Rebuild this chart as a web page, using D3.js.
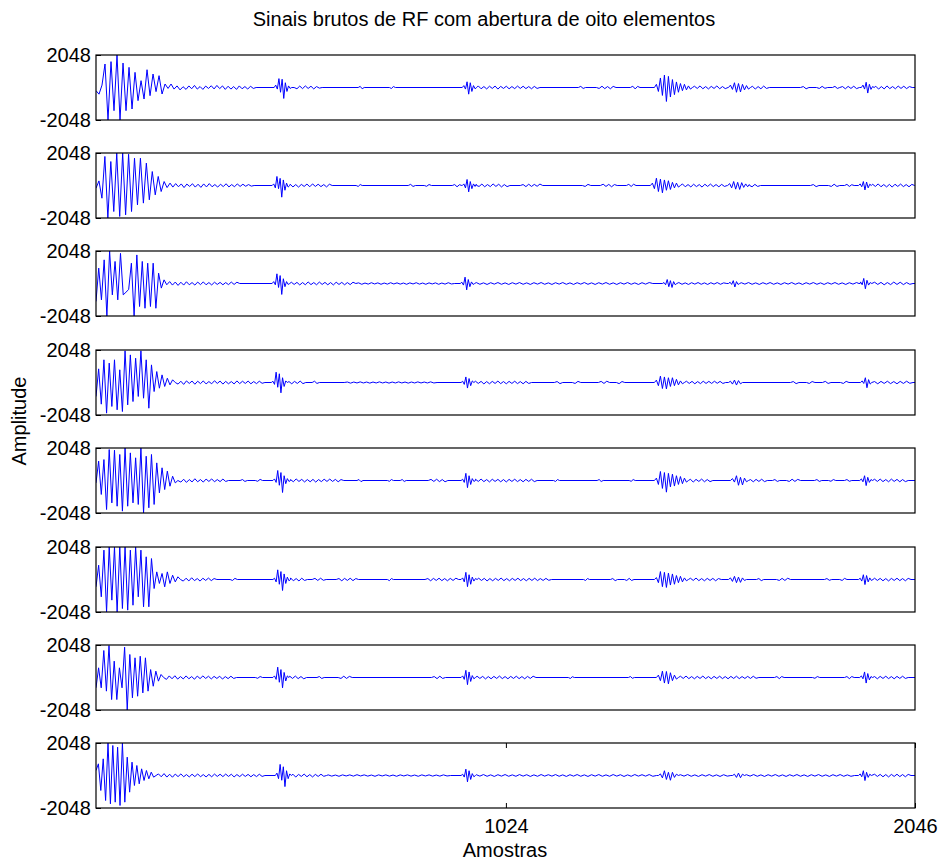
<!DOCTYPE html>
<html>
<head>
<meta charset="utf-8">
<script src="https://cdn.jsdelivr.net/npm/d3@7"></script>
<style>
  body { margin: 0; background: #ffffff; }
  text { font-family: "Liberation Sans", Arial, sans-serif; fill: #000; }
</style>
</head>
<body>
<svg id="chart"></svg>
<script>
////////////////////////////////////////////////////////////////////////
// RF raw signals, eight element aperture
//   each channel is a list of segments: [firstSample, sampleStep, values]
//   values (peaks / troughs)
////////////////////////////////////////////////////////////////////////

var sampleTicks = [1024, 2046];
var ampTicks = [-2048, 2048];
var titleText = "Sinais brutos de RF com abertura de oito elementos";
var xLabel = "Amostras";
var yLabel = "Amplitude";

var ch1 = [
  [0, 7.5, [-200,-420,150,1480,-2048,1630,-1460,2048,-2048,1540,-1460,1270,-1355,955,-830,430,-725,1120,-515,850,-260,745,-410,220,-60,220,-100,100,-150,50]],
  [225, 7, [-120,100,-80,130,-100,60,-120,90,-60,110,-90,130,-70,100,-120,80,-100,60,-120,100,-80,60,-100,80,-60,0]],
  [445, 4, [0,150,-100,560,-300,520,-690,300,-250,100,-60,0]],
  [495, 7, [0,-80,90,-70,100,-60,80,-90,60,-40,0]],
  [655, 5, [0,70,-80,0]],
  [733, 5, [0,-60,60,0]],
  [915, 4, [0,120,-100,360,-420,300,-250,120,-80,0]],
  [955, 7, [100,-80,60,-90,80,-60,90,-100,70,-60,80,-80,60,-70,90,-60,80,-70,60,-80,70,-60,0]],
  [1205, 6, [0,70,-60,0]],
  [1250, 7, [0,-60,80,-70,60,-80,70,0]],
  [1335, 6, [0,80,-90,70,0]],
  [1395, 5, [0,200,-250,600,-500,780,-880,700,-600,500,-450,350,-300,250,-200,200,-150,100,-100,0]],
  [1495, 7, [80,-60,100,-80,60,-90,70,-60,100,-80,60,-70,0]],
  [1580, 5, [0,150,-120,300,-300,250,-280,200,-150,120,-100,0]],
  [1640, 7, [80,-100,60,-80,90,-60,0]],
  [1760, 7, [0,60,-80,0]],
  [1800, 7, [0,-60,70,-50,0]],
  [1840, 6, [0,70,-60,0]],
  [1865, 7, [60,-80,70,-60,80,-70,0]],
  [1912, 4, [0,150,-100,330,-350,200,-120,60,0]],
  [1948, 7, [80,-100,60,-90,100,-70,60,-80,90,-60,80,-70,60,0]]
];

var ch2 = [
  [0, 7.4, [-170,290,-800,1830,-2048,1510,-1640,2048,-1950,2048,-1850,1970,-1640,1720,-1220,1720,-1110,1410,-900,880,-590,570,-380,250,-130,150]],
  [192, 7, [-100,120,-80,100,-130,90,-60,110,-100,80,-120,100,-90,120,-80,60,-100,80,-70,110,-90,60,-80,100,-60,80,-50,60,-40,0]],
  [440, 4, [0,100,-150,570,-200,450,-735,350,-300,150,-100,0]],
  [485, 7, [80,-90,60,-100,70,-60,90,-80,100,-60,80,-70,60,-90,80,0]],
  [650, 5, [0,-60,60,0]],
  [780, 6, [0,70,-60,0]],
  [820, 6, [0,-50,60,0]],
  [890, 6, [0,60,-80,50,0]],
  [915, 4, [0,100,-150,380,-400,250,-200,100,-60,0]],
  [950, 7, [80,-60,90,-80,60,-70,100,-60,80,-90,60,-70,0]],
  [1060, 7, [0,60,-70,80,-60,70,-50,90,0]],
  [1215, 7, [0,-60,70,0]],
  [1260, 7, [0,80,-60,70,-80,60,0]],
  [1325, 6, [0,70,-60,80,0]],
  [1385, 5, [0,150,-200,460,-380,400,-460,350,-300,300,-250,200,-150,150,-100,0]],
  [1465, 7, [100,-80,60,-90,80,-70,60,-100,80,-60,90,-70,60,-80,70,-60,0]],
  [1578, 5, [0,120,-150,250,-230,200,-250,180,-120,100,-80,0]],
  [1632, 7, [60,-80,70,-60,0]],
  [1785, 7, [0,60,-70,0]],
  [1830, 7, [0,-60,80,-60,0]],
  [1870, 6, [0,70,-60,50,0]],
  [1905, 4, [0,100,-80,250,-280,220,-150,80,0]],
  [1940, 7, [80,-60,100,-80,60,-90,70,-100,80,-60,90,-70,60,-80,70,0]]
];

var ch3 = [
  [0, 6.8, [-1130,970,-1030,1490,-2048,2048,-715,1390,-1030,1900,-715,-550,-380,1280,-2048,1800,-1450,1390,-1560,1280,-1450,1280,-1560,650,-290,230,-80]],
  [184, 7, [120,-100,90,-120,80,-100,110,-80,60,-100,90,-70,100,-80,60,-90,80,-60,70,-80,60,-70,90,-60,80,0]],
  [440, 4, [0,120,-80,610,-250,500,-690,300,-200,120,-60,0]],
  [488, 7, [80,-60,70,-90,60,-80,100,-70,60,-80,90,-60,70,-80,60,-90,80,-60,70,-80,60,-70,80,0]],
  [656, 8, [40,-50,30,-40,50,-30,40,-50,30,-40,50,-30,40,-40,30,-50,40,-30,50,-40,30,-50,40,-30,40,-50,30,-40,50,-30,0]],
  [910, 4, [0,80,-100,400,-400,250,-200,100,-60,0]],
  [950, 9, [60,-50,40,-60,50,-40,60,-50,40,-60,50,-40,60,-50,40,-60,50,-40,60,-50,40,-60,50,-40,60,-50,40,-60,50,-40,60,-50,40,-60,50,-40,60,-50,40,-60,50,-40,60,-50,40,-60,50,-40,60,0]],
  [1415, 4, [0,60,-80,250,-200,180,-250,120,-80,0]],
  [1456, 8, [60,-50,40,-60,50,-40,60,-50,40,-60,50,-40,60,-50,40,0]],
  [1580, 4, [0,80,-60,180,-220,120,-60,0]],
  [1612, 9, [50,-40,60,-50,40,-60,50,-40,60,-50,40,-60,50,-40,60,-50,40,-60,50,-40,60,-50,40,-60,50,-40,60,-50,40,-60,50,-40,60,0]],
  [1906, 4, [0,100,-80,320,-330,200,-100,60,0]],
  [1945, 8, [80,-60,70,-80,60,-70,90,-60,80,-70,60,-50,0]]
];

var ch4 = [
  [0, 6.6, [-880,860,-1365,1430,-1930,1220,-1510,1430,-1720,800,-1830,1995,-1410,1740,-1200,1530,-880,1995,-990,1430,-1620,1110,-570,690,-360,480,-250,270,-150,170,0]],
  [205, 7, [-100,80,-120,100,-60,90,-110,80,-70,100,-90,60,-80,110,-60,90,-100,70,-80,60,-90,100,-70,80,-60,90,-80,60,-70,80,-50,0]],
  [438, 4, [0,80,-120,650,-300,550,-650,300,-250,100,0]],
  [482, 7, [60,-80,70,-60,90,-70,0]],
  [540, 6, [0,80,-60,0]],
  [620, 8, [0,30,-40,30,-30,40,-30,30,-40,30,-30,40,-30,30,-40,30,-30,40,-30,30,-40,30,-30,40,-30,30,-30,40,-30,0]],
  [912, 4, [0,80,-120,350,-350,250,-200,100,0]],
  [948, 7, [80,-60,70,-90,60,-80,70,-60,90,-70,60,-80,70,-60,80,-70,60,-80,70,-60,0]],
  [1145, 7, [0,60,-70,0]],
  [1190, 7, [0,-60,70,0]],
  [1255, 7, [0,70,-60,80,0]],
  [1300, 7, [0,-70,60,0]],
  [1395, 5, [0,150,-200,400,-380,350,-400,300,-250,300,-200,200,-150,100,-80,0]],
  [1475, 7, [80,-60,70,-80,60,-70,80,-60,70,-60,80,-50,70,-60,0]],
  [1580, 5, [0,80,-100,150,-160,120,-80,0]],
  [1735, 7, [0,60,-70,0]],
  [1775, 7, [0,-60,60,0]],
  [1815, 7, [0,70,-60,0]],
  [1860, 7, [0,-60,70,0]],
  [1910, 4, [0,100,-60,300,-330,180,-100,0]],
  [1945, 8, [60,-80,70,-60,80,-70,60,-80,70,-60,80,-50,0]]
];

var ch5 = [
  [0, 6.6, [-150,1220,-880,1320,-1830,1950,-1410,1910,-1620,1640,-1930,2048,-1620,1740,-1410,1430,-1510,2048,-2048,1530,-1720,1640,-1510,1110,-780,800,-570,590,-360,270,-150,0]],
  [212, 7, [-100,80,-120,60,-90,110,-80,60,-100,90,-60,100,-80,60,-70,90,-60,0]],
  [360, 6, [0,60,-60,0]],
  [398, 6, [0,-50,70,0]],
  [442, 4, [0,100,-120,630,-300,500,-756,300,-200,120,-60,0]],
  [486, 7, [60,-80,100,-60,70,-90,60,-80,70,-100,60,-70,80,-60,90,-60,70,-80,60,0]],
  [652, 5, [0,60,-70,0]],
  [728, 5, [0,-50,60,0]],
  [760, 5, [0,60,-60,0]],
  [830, 7, [0,70,-60,80,-70,60,-80,0]],
  [912, 4, [0,80,-120,450,-450,300,-250,120,-60,0]],
  [948, 7, [80,-60,90,-70,60,-90,80,-60,70,-80,60,-90,70,-60,80,-70,60,-80,70,-60,80,-70,0]],
  [1143, 5, [0,-60,60,0]],
  [1252, 5, [0,60,-60,0]],
  [1332, 5, [0,-50,60,0]],
  [1395, 5, [0,150,-250,567,-500,500,-735,450,-400,400,-350,300,-250,250,-200,150,-100,0]],
  [1485, 7, [80,-100,70,-60,90,-80,60,-70,0]],
  [1585, 5, [0,120,-100,300,-300,200,-280,150,-80,0]],
  [1635, 7, [60,-80,70,-60,80,-70,0]],
  [1690, 6, [0,60,-60,0]],
  [1725, 7, [0,-60,80,-60,70,0]],
  [1795, 6, [0,60,-60,0]],
  [1830, 6, [0,-50,60,0]],
  [1870, 6, [0,60,-50,0]],
  [1908, 4, [0,100,-80,300,-320,200,-120,60,0]],
  [1945, 7, [80,-60,90,-70,60,-80,90,-60,70,-80,60,-70,0]]
];

var ch6 = [
  [0, 6.6, [-460,900,-1090,1850,-2048,2048,-1300,2048,-2048,2048,-1830,2048,-1930,1850,-1620,2048,-1090,1850,-1720,1430,-1720,1320,-570,480,-250,380,-460,480,-250,270,-150,170,0]],
  [218, 7, [-100,80,-90,110,-70,60,-100,80,-60,90,-70,60,0]],
  [335, 6, [0,-60,70,0]],
  [442, 4, [0,80,-150,609,-300,500,-693,350,-250,150,-80,0]],
  [486, 7, [100,-80,60,-90,80,-60,0]],
  [540, 7, [0,70,-60,80,-50,0]],
  [600, 7, [0,60,-80,70,-60,80,-70,60,0]],
  [728, 5, [0,-70,60,0]],
  [822, 7, [0,60,-80,70,-60,80,-70,60,-80,70,-60,80,0]],
  [912, 4, [0,100,-150,450,-450,300,-300,150,-100,60,0]],
  [956, 7, [80,-60,70,-90,60,-80,70,-60,90,-70,60,-80,70,-60,80,-70,60,-80,70,-60,80,-70,60,-60,70,-50,0]],
  [1218, 5, [0,-60,60,0]],
  [1285, 6, [0,60,-70,0]],
  [1320, 6, [0,-60,70,-60,0]],
  [1395, 5, [0,120,-200,500,-450,450,-500,400,-350,350,-300,250,-200,200,-150,100,-80,0]],
  [1485, 7, [80,-60,90,-70,60,-80,70,-60,70,-80,60,0]],
  [1580, 5, [0,100,-120,200,-200,150,-180,100,-60,0]],
  [1650, 6, [0,60,-70,0]],
  [1700, 7, [0,-60,70,-60,80,0]],
  [1820, 6, [0,60,-50,0]],
  [1858, 6, [0,-60,70,0]],
  [1905, 4, [0,80,-100,300,-320,250,-150,100,-60,0]],
  [1945, 7, [80,-60,70,-80,60,-90,70,-60,80,-70,60,-80,70,0]]
];

var ch7 = [
  [0, 6.5, [-650,610,-650,1700,-860,2016,-1390,1030,-1390,610,-650,1910,-2048,1450,-1280,1240,-1180,1340,-970,1240,-860,500,-550,400,-230,190,0]],
  [176, 7, [-120,100,-80,110,-100,60,-90,100,-80,60,-110,90,-70,100,-60,80,-90,70,-60,80,-100,60,-70,80,-60,0]],
  [398, 6, [0,-50,60,0]],
  [442, 4, [0,100,-120,650,-300,500,-650,320,-220,100,0]],
  [484, 7, [80,-60,90,-70,60,-80,0]],
  [552, 6, [0,60,-60,0]],
  [605, 7, [0,-60,80,-60,70,0]],
  [838, 7, [0,60,-70,80,-60,0]],
  [912, 4, [0,100,-120,450,-450,350,-250,120,-80,0]],
  [952, 7, [80,-60,70,-90,60,-80,70,-60,90,-70,60,-80,70,-60,80,-70,60,-80,70,-60,80,0]],
  [1180, 5, [0,-60,50,0]],
  [1330, 5, [0,60,-50,0]],
  [1400, 5, [0,150,-200,400,-350,380,-400,300,-200,150,-100,0]],
  [1460, 7, [80,-60,90,-70,60,-80,70,-60,90,-70,60,-80,70,-60,80,-70,60,-80,70,-60,80,-70,60,-60,70,-60,80,-50,0]],
  [1695, 6, [0,60,-70,60,0]],
  [1790, 6, [0,-50,60,0]],
  [1870, 6, [0,60,-70,60,0]],
  [1908, 4, [0,100,-80,350,-350,250,-150,60,0]],
  [1945, 7, [60,-80,70,-60,80,-70,60,-80,70,-60,80,-60,0]]
];

var ch8 = [
  [0, 6, [315,735,-945,1050,-1575,2048,-1785,1890,-1680,1785,-1890,2048,-1680,1155,-1050,840,-630,630,-525,420,-315,315,-210,210,-105,0]],
  [156, 7, [100,-80,120,-100,80,-110,90,-70,100,-80,60,-90,80,-70,100,-80,60,-90,70,-80,90,-60,80,-70,90,-60,80,-90,60,-70,80,-60,70,-80,60,-70,80,-60,0]],
  [448, 4, [0,150,-200,700,-300,550,-700,300,-200,100,0]],
  [492, 7, [80,-100,70,-60,90,-80,60,-90,70,-60,80,-50,0]],
  [580, 9, [40,-40,30,-50,40,-30,40,-40,50,-30,40,-40,30,-50,40,-30,40,-40,30,-50,40,-30,40,-40,30,-50,40,-30,40,-40,30,-40,40,-30,0]],
  [912, 4, [0,80,-100,400,-400,300,-250,120,-80,0]],
  [950, 9, [50,-40,60,-50,40,-60,50,-40,60,-50,40,-50,60,-40,50,-60,40,-50,60,-40,50,-40,60,-50,40,-60,50,-40,60,-50,40,-60,50,-40,60,-50,40,-50,60,-40,50,-60,40,-50,60,-40,50,-40,60,-50,0]],
  [1405, 5, [0,100,-150,300,-250,200,-300,200,-120,80,0]],
  [1460, 9, [50,-40,60,-50,40,-60,50,-40,60,-50,40,-60,50,-40,0]],
  [1590, 5, [0,80,-120,150,-140,80,0]],
  [1625, 9, [50,-40,60,-50,40,-60,50,-40,60,-50,40,-60,50,-40,60,-50,40,-60,50,-40,60,-50,40,-60,50,-40,60,-50,40,-50,0]],
  [1905, 4, [0,100,-80,300,-320,200,-120,80,0]],
  [1945, 7, [80,-60,70,-80,60,-90,70,-60,80,-70,60,-80,70,0]]
];

var channels = [ch1, ch2, ch3, ch4, ch5, ch6, ch7, ch8];


////////////////////////////////////////////////////////////////////////
//
// turn the segment list of one channel into [sample, value] points
//
////////////////////////////////////////////////////////////////////////
function toPoints(segs)
    {
    var pts = [];
    segs.forEach(function(seg)
        {
        seg[2].forEach(function(v, i)
            {
            pts.push([seg[0] + i * seg[1], v]);
            });
        });
    pts.push([2046, 0]);
    pts.sort(function(a, b) { return a[0] - b[0]; });
    return pts;
    }


////////////////////////////////////////////////////////////////////////
//
// draw the figure
//
////////////////////////////////////////////////////////////////////////
function drawChart()
    {
    var width = 943, height = 860;
    var left = 96, right = 915;
    var top0 = 54.5, rowStep = 98.4, plotH = 65;

    //plain ascii minus, like the original figure
    var plainNum = function(d) { return String(d); };

    var svg = d3.select("#chart")
        .attr("width", width)
        .attr("height", height)
        .style("display", "block");

    svg.append("rect").attr("width", width).attr("height", height).attr("fill", "#fff");

    var x = d3.scaleLinear().domain([0, 2046]).range([left, right]);
    var y = d3.scaleLinear().domain([-2048, 2048]).range([plotH, 0]);

    svg.append("defs").append("clipPath")
        .attr("id", "plotClip")
        .append("rect")
        .attr("x", left).attr("y", 0)
        .attr("width", right - left).attr("height", plotH);

    var line = d3.line()
        .x(function(d) { return x(d[0]); })
        .y(function(d) { return y(d[1]); });

    channels.forEach(function(segs, i)
        {
        var top = Math.round(top0 + i * rowStep);
        var g = svg.append("g").attr("transform", "translate(0," + top + ")");

        g.append("path")
            .datum(toPoints(segs))
            .attr("clip-path", "url(#plotClip)")
            .attr("fill", "none")
            .attr("stroke", "#0000ff")
            .attr("stroke-width", 1)
            .attr("stroke-linejoin", "round")
            .attr("d", line);

        //amplitude ticks and labels
        var yAxis = g.append("g")
            .attr("transform", "translate(" + left + ",0)")
            .call(d3.axisLeft(y).tickValues(ampTicks).tickSize(-5).tickPadding(5)
                .tickFormat(plainNum));
        yAxis.select(".domain").remove();
        yAxis.selectAll("text").style("font-size", "20px").attr("font-family", null);
        yAxis.selectAll("line").attr("stroke", "#000");

        //box round the axes
        g.append("rect")
            .attr("x", left).attr("y", 0)
            .attr("width", right - left).attr("height", plotH)
            .attr("fill", "none")
            .attr("stroke", "#000")
            .attr("stroke-width", 1.2);

        //sample ticks only on the last axes
        if(i === channels.length - 1)
            {
            var xAxis = g.append("g")
                .attr("transform", "translate(0," + plotH + ")")
                .call(d3.axisBottom(x).tickValues(sampleTicks).tickSize(-5).tickPadding(11)
                    .tickFormat(plainNum));
            xAxis.select(".domain").remove();
            xAxis.selectAll("text").style("font-size", "20px").attr("font-family", null);

            var xTop = g.append("g")
                .call(d3.axisTop(x).tickValues(sampleTicks).tickSize(-5).tickFormat(""));
            xTop.select(".domain").remove();
            }
        });

    svg.append("text")
        .attr("x", 484).attr("y", 26)
        .attr("text-anchor", "middle")
        .style("font-size", "20px")
        .text(titleText);

    svg.append("text")
        .attr("x", 505).attr("y", 857)
        .attr("text-anchor", "middle")
        .style("font-size", "20px")
        .text(xLabel);

    svg.append("text")
        .attr("transform", "translate(26,421) rotate(-90)")
        .attr("text-anchor", "middle")
        .style("font-size", "20px")
        .text(yLabel);
    }

drawChart();
</script>
</body>
</html>
